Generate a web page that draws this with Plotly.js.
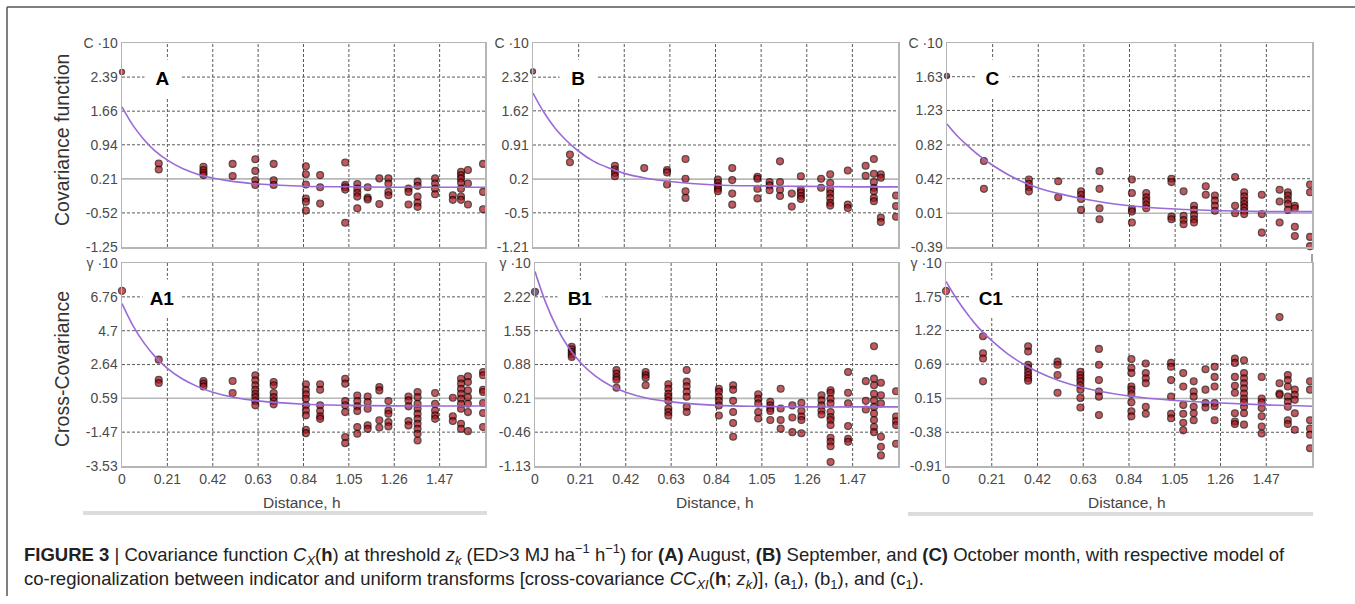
<!DOCTYPE html>
<html>
<head>
<meta charset="utf-8">
<script src="https://cdn.plot.ly/plotly-3.0.1.min.js"></script>
<style>
html,body{margin:0;padding:0;background:#fff;}
#chart{width:1355px;height:604px;}
</style>
</head>
<body>
<div id="chart"></div>
<script>
// ---------------- DATA ----------------
// lag distances (h) of the experimental points, shared by all panels
const lags = [0, 0.17, 0.377, 0.512, 0.617, 0.702, 0.851, 0.917, 1.033, 1.089, 1.137, 1.191, 1.233, 1.326, 1.368, 1.449, 1.531, 1.569, 1.601, 1.671];

// experimental values at each lag (x10)
const covA = [[2.50],[0.54,0.41],[0.47,0.40,0.34,0.29],[0.53,0.27],[0.63,0.38,0.18,0.08],[0.53,0.18,0.08],[0.48,0.31,0.09,-0.21,-0.28,-0.47],[0.29,0.03,-0.32],[0.56,0.08,0.03,-0.02,-0.73],[0.10,0.00,-0.09,-0.17,-0.42],[0.03,-0.19,-0.23],[0.22,-0.33],[0.22,0.11,-0.07,-0.14],[0.00,-0.07,-0.34],[0.15,0.06,-0.17,-0.30,-0.39],[0.22,0.11,0.00,-0.12],[-0.14,-0.24],[0.36,0.29,0.22,0.13,0.00,-0.17,-0.24],[0.40,0.11,-0.34],[0.53,-0.07,-0.44]];
const covB = [[2.44],[0.71,0.55],[0.48,0.40,0.33,0.26],[0.43],[0.39,0.34,0.09],[0.62,0.21,-0.05,-0.19],[0.19,0.12,0.05,0.00,-0.05],[0.43,0.18,-0.10,-0.33],[0.25,0.21,0.00,-0.20],[0.14,0.07,-0.03],[0.57,0.14,-0.02,-0.15],[-0.10,-0.37],[0.26,-0.02,-0.08,-0.15,-0.21],[0.21,0.02],[0.30,0.12,-0.02,-0.10,-0.19,-0.29,-0.35],[0.38,-0.33,-0.40],[0.48,0.27],[0.62,0.31,0.14,0.02,-0.05,-0.19,-0.26],[0.30,0.23,-0.60,-0.69],[-0.14,-0.36,-0.58]];
const covC = [[1.64],[0.63,0.30],[0.41,0.36,0.32,0.27],[0.39,0.20],[0.27,0.23,0.18,0.05],[0.51,0.30,0.07,-0.06],[0.41,0.25,0.06,0.03,-0.10],[0.25,0.20,0.16,0.11,0.07],[0.42,0.38,-0.03,-0.06],[0.27,-0.02,-0.07,-0.12],[0.10,0.05,-0.01,-0.06,-0.10],[0.33,0.23],[0.22,0.16,0.10,0.04],[0.44,0.10,0.01],[0.26,0.21,0.16,0.12,0.08,0.04,0.00],[0.23,0.00,-0.22],[0.29,0.15,-0.10],[0.26,0.22,0.17,0.12,0.05],[0.10,0.07,-0.15,-0.26],[0.35,0.26,-0.27,-0.38]];
const crossA = [[7.13],[2.94,1.72,1.52],[1.64,1.48,1.31],[1.64,0.91],[1.99,1.68,1.38,1.11,0.87,0.66,0.42,0.16],[1.58,1.38,0.91,0.66,0.42,0.22],[1.44,1.11,0.83,0.56,0.16,-0.15,-0.45,-1.33,-1.53],[1.44,1.11,0.16,-0.19,-0.51,-0.66],[1.78,1.48,0.42,0.16,-0.25,-1.77,-2.14],[0.76,0.42,0.10,-0.19,-1.16,-1.57],[0.70,0.36,-0.05,-1.05,-1.27],[1.27,1.07,-0.75,-1.19],[0.42,-0.15,-0.35,-0.86,-1.12],[0.70,0.46,0.10,-0.79,-1.06],[0.97,0.66,0.26,-0.05,-0.35,-0.66,-0.96,-1.27,-1.57,-1.98],[0.91,0.26,-0.15,-0.45,-0.66],[0.62,-0.51,-0.79],[1.78,1.48,1.17,0.87,0.56,0.26,-0.05,-0.96,-1.27],[1.92,1.58,1.07,0.66,0.26,-0.25,-1.41],[2.19,1.99,1.11,0.97,0.30,-0.31,-1.16]];
const crossB = [[2.32],[1.23,1.18,1.13,1.08,1.03],[0.77,0.70,0.63,0.58,0.42],[0.73,0.67,0.62,0.47],[0.49,0.40,0.30,0.24,0.16,0.01,-0.06,-0.13],[0.77,0.54,0.45,0.34,0.24,0.04,-0.06],[0.40,0.34,0.24,0.16,0.07,-0.13],[0.47,0.38,0.16,-0.06,-0.28,-0.55],[0.29,0.20,0.11,-0.06,-0.19],[0.14,0.07,0.01,-0.04,-0.22],[0.40,0.01,-0.22,-0.39],[0.07,-0.17,-0.46],[0.12,-0.04,-0.15,-0.22,-0.48],[0.27,0.17,0.07,-0.03,-0.11],[0.37,0.32,0.20,0.11,-0.06,-0.16,-0.22,-0.32,-0.57,-0.65,-0.74,-1.05],[0.73,0.32,0.11,-0.34,-0.59,-0.65],[0.55,0.16,-0.01],[1.24,0.60,0.47,0.30,0.17,0.04,-0.09,-0.22,-0.36,-0.46],[0.52,0.27,0.11,-0.55,-0.75,-0.92],[0.35,-0.15,-0.24,-0.32,-0.69]];
const crossC = [[1.84],[1.13,0.86,0.78,0.42],[0.97,0.89,0.68,0.63,0.57,0.52,0.47,0.43],[0.73,0.68,0.52,0.24],[0.57,0.52,0.47,0.42,0.36,0.29,0.16,0.01],[0.93,0.68,0.44,0.26,0.18,-0.11],[0.77,0.63,0.55,0.34,0.29,0.22,0.09,-0.05,-0.13],[0.70,0.55,0.47,0.39,0.02,-0.09],[0.71,0.65,0.44,0.18,-0.09,-0.16],[0.55,0.34,0.05,-0.09,-0.23,-0.35],[0.42,0.26,0.18,0.02,-0.08,-0.19],[0.61,0.29,0.08,0.01],[0.65,0.49,0.34,0.08,0.03,-0.19],[0.78,0.71,0.49,0.35,0.24,-0.08,-0.21,-0.25],[0.75,0.55,0.47,0.39,0.31,0.23,0.15,0.09,0.02,-0.08,-0.26],[0.49,0.15,0.09,0.00,-0.13,-0.29,-0.40],[1.43,0.39,0.23,0.21],[0.52,0.44,0.34,0.18,0.10,0.02,-0.19,-0.25],[0.29,0.21,0.13,-0.08,-0.34],[0.42,0.29,-0.19,-0.32,-0.42,-0.63]];

// fitted model curves
const modelLag = [0, 0.05, 0.1, 0.15, 0.21, 0.28, 0.35, 0.42, 0.52, 0.63, 0.84, 1.05, 1.26, 1.47, 1.68];
const modelA  = [1.75, 1.36, 1.06, 0.82, 0.61, 0.43, 0.31, 0.23, 0.15, 0.10, 0.05, 0.04, 0.03, 0.03, 0.03];
const modelB  = [1.99, 1.59, 1.27, 1.02, 0.78, 0.57, 0.43, 0.32, 0.22, 0.15, 0.08, 0.06, 0.05, 0.04, 0.04];
const modelC  = [1.07, 0.92, 0.80, 0.69, 0.58, 0.47, 0.38, 0.31, 0.24, 0.18, 0.10, 0.06, 0.04, 0.03, 0.03];
const modelA1 = [6.35, 5.03, 3.99, 3.17, 2.41, 1.76, 1.30, 0.96, 0.64, 0.43, 0.23, 0.16, 0.13, 0.12, 0.12];
const modelB1 = [2.72, 2.10, 1.62, 1.25, 0.92, 0.65, 0.46, 0.33, 0.21, 0.14, 0.07, 0.05, 0.04, 0.04, 0.04];
const modelC1 = [1.99, 1.71, 1.47, 1.26, 1.06, 0.86, 0.70, 0.57, 0.43, 0.32, 0.19, 0.12, 0.08, 0.05, 0.03];

// axis ticks
const xTickVals = [0, 0.21, 0.42, 0.63, 0.84, 1.05, 1.26, 1.47];
const xTickText = ['0', '0.21', '0.42', '0.63', '0.84', '1.05', '1.26', '1.47'];
const yTickA  = [-1.25, -0.52, 0.21, 0.94, 1.66, 2.39, 3.12];
const yTextA  = ['-1.25', '-0.52', '0.21', '0.94', '1.66', '2.39', 'C ·10'];
const yTickB  = [-1.21, -0.5, 0.2, 0.91, 1.62, 2.32, 3.03];
const yTextB  = ['-1.21', '-0.5', '0.2', '0.91', '1.62', '2.32', 'C ·10'];
const yTickC  = [-0.39, 0.01, 0.42, 0.82, 1.23, 1.63, 2.03];
const yTextC  = ['-0.39', '0.01', '0.42', '0.82', '1.23', '1.63', 'C ·10'];
const yTickA1 = [-3.53, -1.47, 0.59, 2.64, 4.7, 6.76, 8.82];
const yTextA1 = ['-3.53', '-1.47', '0.59', '2.64', '4.7', '6.76', 'γ ·10'];
const yTickB1 = [-1.13, -0.46, 0.21, 0.88, 1.55, 2.22, 2.89];
const yTextB1 = ['-1.13', '-0.46', '0.21', '0.88', '1.55', '2.22', 'γ ·10'];
const yTickC1 = [-0.91, -0.38, 0.15, 0.69, 1.22, 1.75, 2.28];
const yTextC1 = ['-0.91', '-0.38', '0.15', '0.69', '1.22', '1.75', 'γ ·10'];

const panelLetters = ['A', 'B', 'C', 'A1', 'B1', 'C1'];

// ---------------- LAYOUT CONFIG ----------------
const W = 1355, H = 604;
const px = v => v / W;
const py = v => 1 - v / H;

const panels = [
  {vals: covA,   model: modelA,  yt: yTickA,  ytx: yTextA,  solid: 2, xs: [122, 485], ys: [43, 247],  bottom: false, letter: [162, 78, 33, 35]},
  {vals: covB,   model: modelB,  yt: yTickB,  ytx: yTextB,  solid: 2, xs: [533, 898], ys: [43, 247],  bottom: false, letter: [578, 78, 34, 35]},
  {vals: covC,   model: modelC,  yt: yTickC,  ytx: yTextC,  solid: 1, xs: [947, 1312], ys: [43, 247], bottom: false, letter: [993, 78, 31, 35]},
  {vals: crossA, model: modelA1, yt: yTickA1, ytx: yTextA1, solid: 2, xs: [122, 485], ys: [263, 466], bottom: true,  letter: [162, 299, 36, 35]},
  {vals: crossB, model: modelB1, yt: yTickB1, ytx: yTextB1, solid: 2, xs: [535, 898], ys: [263, 466], bottom: true,  letter: [580, 299, 42, 35]},
  {vals: crossC, model: modelC1, yt: yTickC1, ytx: yTextC1, solid: 2, xs: [946, 1312], ys: [263, 466], bottom: true, letter: [991, 298, 38, 35]}
];

const FONT = 'Liberation Sans, Arial, Helvetica, sans-serif';
const GRID = {color: '#5a5a5a', width: 1, dash: '3px,2px'};
const traces = [];
const layout = {
  width: W, height: H,
  margin: {l: 0, r: 0, t: 0, b: 0},
  paper_bgcolor: '#fff', plot_bgcolor: '#fff',
  showlegend: false,
  font: {family: FONT, color: '#4a4a4a'},
  shapes: [], annotations: []
};

panels.forEach((p, i) => {
  const n = i + 1;
  const xa = n === 1 ? 'x' : 'x' + n;
  const ya = n === 1 ? 'y' : 'y' + n;
  const xs = [], ys = [];
  lags.forEach((h, k) => p.vals[k].forEach(v => { xs.push(h); ys.push(v); }));
  const sizes = xs.map(h => h === 0 ? (p.bottom ? 7 : 5) : 6.8);
  traces.push({
    type: 'scatter', mode: 'markers', x: xs, y: ys, xaxis: xa, yaxis: ya,
    cliponaxis: false, hoverinfo: 'skip',
    marker: {size: sizes, color: (i === 4) ? xs.map(h => h === 0 ? '#4a1c6a' : '#b0111a') : '#b0111a',
             line: {color: '#1c0000', width: 1.3}}
  });
  traces.push({
    type: 'scatter', mode: 'lines', x: modelLag, y: p.model, xaxis: xa, yaxis: ya,
    line: {color: '#9a6ad8', width: 1.6, shape: 'spline'}, hoverinfo: 'skip'
  });
  const axBase = {
    showgrid: false, showline: true, mirror: true, linecolor: '#b5b5b5', linewidth: 1.5,
    zeroline: false, ticks: '', fixedrange: true
  };
  layout[n === 1 ? 'xaxis' : 'xaxis' + n] = Object.assign({}, axBase, {
    domain: [px(p.xs[0]), px(p.xs[1])], anchor: ya, range: [0, 1.68],
    tickmode: 'array', tickvals: xTickVals, ticktext: xTickText,
    showticklabels: p.bottom, tickfont: {size: 14, color: '#4a4a4a'}
  });
  layout[n === 1 ? 'yaxis' : 'yaxis' + n] = Object.assign({}, axBase, {
    domain: [py(p.ys[1]), py(p.ys[0])], anchor: xa, range: [p.yt[0], p.yt[6]],
    tickmode: 'array', tickvals: p.yt, ticktext: p.ytx,
    tickfont: {size: 14, color: '#4a4a4a'}
  });
  // grid lines (dashed), one solid light line near zero
  p.yt.slice(1, 6).forEach((v, k) => {
    const solid = (k + 1) === p.solid;
    layout.shapes.push({type: 'line', layer: 'below', xref: xa, x0: 0, x1: 1.68, yref: ya, y0: v, y1: v,
      line: solid ? {color: '#b8b8b8', width: 1.6} : GRID});
  });
  xTickVals.slice(1).forEach(v => {
    layout.shapes.push({type: 'line', layer: 'below', xref: xa, x0: v, x1: v, yref: ya, y0: p.yt[0], y1: p.yt[6], line: GRID});
  });
  // panel letter
  layout.annotations.push({
    xref: 'paper', yref: 'paper', x: px(p.letter[0]), y: py(p.letter[1]),
    xanchor: 'center', yanchor: 'middle', showarrow: false,
    text: '<b>' + panelLetters[i] + '</b>', font: {size: 19, color: '#000', family: FONT},
    bgcolor: '#fff', width: p.letter[2], height: p.letter[3]
  });
  if (p.bottom) {
    layout.annotations.push({
      xref: 'paper', yref: 'paper', x: px((p.xs[0] + p.xs[1]) / 2 - 2), y: py(502),
      xanchor: 'center', yanchor: 'middle', showarrow: false,
      text: 'Distance, h', font: {size: 15.5, color: '#444', family: FONT}
    });
  }
});

// y-axis titles
layout.annotations.push({xref: 'paper', yref: 'paper', x: px(62), y: py(140), textangle: -90,
  xanchor: 'center', yanchor: 'middle', showarrow: false, text: 'Covariance function',
  font: {size: 19.5, color: '#333', family: FONT}});
layout.annotations.push({xref: 'paper', yref: 'paper', x: px(62), y: py(369), textangle: -90,
  xanchor: 'center', yanchor: 'middle', showarrow: false, text: 'Cross-Covariance',
  font: {size: 19.5, color: '#333', family: FONT}});

// figure caption
layout.annotations.push({xref: 'paper', yref: 'paper', x: px(22), y: py(554),
  xanchor: 'left', yanchor: 'middle', showarrow: false, align: 'left',
  font: {size: 18.5, color: '#222', family: FONT},
  text: '<b>FIGURE 3</b> | Covariance function <i>C<sub>X</sub></i>(<b>h</b>) at threshold <i>z<sub>k</sub></i> (ED&gt;3 MJ ha<sup>−1</sup> h<sup>−1</sup>) for <b>(A)</b> August, <b>(B)</b> September, and <b>(C)</b> October month, with respective model of'});
layout.annotations.push({xref: 'paper', yref: 'paper', x: px(22), y: py(580),
  xanchor: 'left', yanchor: 'middle', showarrow: false, align: 'left',
  font: {size: 18.5, color: '#222', family: FONT},
  text: 'co-regionalization between indicator and uniform transforms [cross-covariance <i>CC<sub>XI</sub></i>(<b>h</b>; <i>z<sub>k</sub></i>)], (a<sub>1</sub>), (b<sub>1</sub>), and (c<sub>1</sub>).'});

// frame lines and decorative bars
layout.shapes.push({type: 'line', xref: 'paper', yref: 'paper', x0: px(7), x1: 1, y0: py(7), y1: py(7), line: {color: '#555', width: 1.5}});
layout.shapes.push({type: 'line', xref: 'paper', yref: 'paper', x0: px(7), x1: px(7), y0: py(7), y1: py(596), line: {color: '#555', width: 1.5}});
layout.shapes.push({type: 'rect', xref: 'paper', yref: 'paper', x0: px(83), x1: px(487), y0: py(515), y1: py(511), fillcolor: '#dcdcdc', line: {width: 0}});
layout.shapes.push({type: 'rect', xref: 'paper', yref: 'paper', x0: px(908), x1: px(1313), y0: py(516), y1: py(512), fillcolor: '#dcdcdc', line: {width: 0}});
layout.shapes.push({type: 'line', xref: 'paper', yref: 'paper', x0: px(1312), x1: px(1312), y0: py(254), y1: py(262), line: {color: '#444', width: 1}});

Plotly.newPlot('chart', traces, layout, {displayModeBar: false, staticPlot: true});
</script>
</body>
</html>
